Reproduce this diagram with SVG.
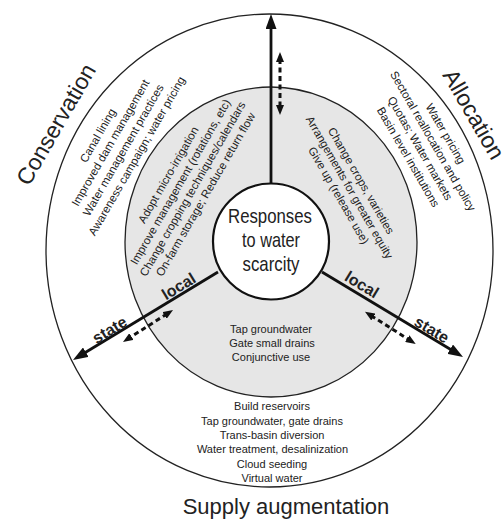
<svg xmlns="http://www.w3.org/2000/svg" width="502" height="520" viewBox="0 0 502 520">
<defs>
<style>
text{font-family:"Liberation Sans",Arial,sans-serif;fill:#222}
.big{font-size:23px}
.sm{font-size:11.5px;text-anchor:middle}
.hz{font-size:11px;text-anchor:middle}
.ctr{font-size:21px;text-anchor:middle}
.lvl{font-size:16px;font-weight:bold;text-anchor:middle}
.ring{stroke:#222;stroke-width:1.3}
.main{stroke:#111;stroke-width:2.8;fill:none}
.dash{stroke:#111;stroke-width:3;fill:none;stroke-dasharray:5 3.5}
</style>
<marker id="headBig" viewBox="0 0 15 11" refX="4" refY="5.5" markerWidth="15" markerHeight="11" markerUnits="userSpaceOnUse" orient="auto">
<path d="M0,0 L15,5.5 L0,11 z" fill="#111"/>
</marker>
<marker id="headSm" viewBox="0 0 10 8" refX="3" refY="4" markerWidth="10" markerHeight="8" markerUnits="userSpaceOnUse" orient="auto-start-reverse">
<path d="M0,0 L10,4 L0,8 z" fill="#111"/>
</marker>
</defs>
<rect width="502" height="520" fill="#fff"/>
<g id="outer-ring">
<ellipse cx="269.5" cy="250.5" rx="223.5" ry="236.5" fill="#fff" class="ring"/>
</g>
<g id="inner-ring">
<ellipse cx="271" cy="242" rx="146" ry="155" fill="#e6e6e6" class="ring"/>
</g>
<g id="connectors">
<line x1="271" y1="183" x2="271" y2="25" class="main" marker-end="url(#headBig)"/>
<line x1="218" y1="272" x2="82.4" y2="354.3" class="main" marker-end="url(#headBig)"/>
<line x1="322" y1="272" x2="453.6" y2="351.3" class="main" marker-end="url(#headBig)"/>
<line x1="280" y1="59" x2="280" y2="108" class="dash" marker-start="url(#headSm)" marker-end="url(#headSm)"/>
<line x1="167.1" y1="313.8" x2="128.9" y2="338.2" class="dash" marker-start="url(#headSm)" marker-end="url(#headSm)"/>
<line x1="370.9" y1="315.5" x2="409.8" y2="340.2" class="dash" marker-start="url(#headSm)" marker-end="url(#headSm)"/>
</g>
<g id="center-node">
<circle cx="271" cy="241.5" r="58" fill="#fff" stroke="#111" stroke-width="2.2"/>
<text class="ctr" x="270" y="223" textLength="84" lengthAdjust="spacingAndGlyphs">Responses</text>
<text class="ctr" x="271" y="247" textLength="58" lengthAdjust="spacingAndGlyphs">to water</text>
<text class="ctr" x="271" y="271" textLength="57" lengthAdjust="spacingAndGlyphs">scarcity</text>
</g>
<g id="label-conservation">
<text class="big" transform="translate(29,187) rotate(-60)">Conservation</text>
</g>
<g id="label-allocation">
<text class="big" transform="translate(442,75) rotate(60)">Allocation</text>
</g>
<g id="label-supply">
<text class="big" x="286" y="514" text-anchor="middle" style="font-size:22px">Supply augmentation</text>
</g>
<g id="conservation-state">
<text class="sm" transform="translate(102,136) rotate(-60)">
<tspan x="0" dy="0">Canal lining</tspan>
<tspan x="0" dy="14.7">Improved dam management</tspan>
<tspan x="0" dy="14.7">Water management practices</tspan>
<tspan x="0" dy="14.7">Awareness campaign; water pricing</tspan>
</text>
</g>
<g id="conservation-local">
<text class="sm" transform="translate(172.5,175.5) rotate(-60)">
<tspan x="0" dy="0">Adopt micro-irrigation</tspan>
<tspan x="0" dy="14">Improve management (rotations, etc)</tspan>
<tspan x="0" dy="14">Change cropping techniques/calendars</tspan>
<tspan x="0" dy="14">On-farm storage; Reduce return flow</tspan>
</text>
</g>
<g id="allocation-state">
<text class="sm" transform="translate(443,137) rotate(60)">
<tspan x="0" dy="0">Water pricing</tspan>
<tspan x="0" dy="14.7">Sectoral reallocation and policy</tspan>
<tspan x="0" dy="14.7">Quotas; Water markets</tspan>
<tspan x="0" dy="14.7">Basin level institutions</tspan>
</text>
</g>
<g id="allocation-local">
<text class="sm" transform="translate(358.5,184) rotate(60)">
<tspan x="0" dy="0">Change crops, varieties</tspan>
<tspan x="0" dy="13.4">Arrangements for greater equity</tspan>
<tspan x="0" dy="13.4">Give up (release use)</tspan>
</text>
</g>
<g id="supply-local">
<text class="hz" x="271" y="333">Tap groundwater</text>
<text class="hz" x="272" y="347">Gate small drains</text>
<text class="hz" x="271" y="361">Conjunctive use</text>
</g>
<g id="supply-state">
<text class="hz" x="272" y="410">Build reservoirs</text>
<text class="hz" x="272" y="424.5">Tap groundwater, gate drains</text>
<text class="hz" x="272" y="439">Trans-basin diversion</text>
<text class="hz" x="272.5" y="453">Water treatment, desalinization</text>
<text class="hz" x="272" y="467.5">Cloud seeding</text>
<text class="hz" x="272" y="482">Virtual water</text>
</g>
<g id="level-labels">
<text class="lvl" transform="translate(181.5,291) rotate(-31.2)">local</text>
<text class="lvl" transform="translate(112.5,334.5) rotate(-31.2)">state</text>
<text class="lvl" transform="translate(359,289.3) rotate(31.2)">local</text>
<text class="lvl" transform="translate(429,334.3) rotate(31.2)">state</text>
</g>
</svg>
